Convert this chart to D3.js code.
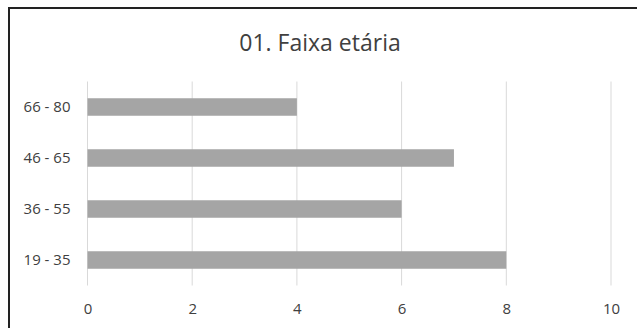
<!DOCTYPE html>
<html>
<head>
<meta charset="utf-8">
<script src="https://cdn.jsdelivr.net/npm/d3@7"></script>
<style>
  body { margin: 0; background: #fff; }
  text { font-family: "Open Sans", sans-serif; fill: #404040; }
</style>
</head>
<body>
<div id="chart"></div>
<script>
var width = 637;
var height = 328;

// data, top to bottom as drawn
var categories = ["66 - 80", "46 - 65", "36 - 55", "19 - 35"];
var values = [4, 7, 6, 8];
var xTicks = [0, 2, 4, 6, 8, 10];
var title = "01. Faixa etária";

var plotLeft = 87.5, plotRight = 611;
var plotTop = 81.5, plotBottom = 285.5;

var svg = d3.select("#chart").append("svg")
    .attr("width", width)
    .attr("height", height);

// chart frame (only top and left edges are visible)
svg.append("rect")
    .attr("x", 9)
    .attr("y", 8)
    .attr("width", width + 20)
    .attr("height", height + 20)
    .style("fill", "#fff")
    .style("stroke", "#222")
    .style("stroke-width", 2);

svg.append("text")
    .attr("x", 320)
    .attr("y", 51)
    .style("text-anchor", "middle")
    .style("font-size", "23px")
    .style("fill", "#404040")
    .text(title);

var xScale = d3.scaleLinear()
    .domain([0, 10])
    .range([plotLeft, plotRight]);

var yScale = d3.scaleBand()
    .domain(categories)
    .range([plotTop, plotBottom])
    .paddingInner(0.657)
    .paddingOuter(0.3285);

// gridlines
svg.append("g")
    .selectAll("line")
    .data(xTicks)
    .enter().append("line")
    .attr("x1", function(d) { return xScale(d); })
    .attr("x2", function(d) { return xScale(d); })
    .attr("y1", plotTop)
    .attr("y2", plotBottom)
    .style("stroke", "#d9d9d9")
    .style("stroke-width", 1);

// bars
var rows = categories.map(function(c, i) { return {cat: c, value: values[i]}; });
svg.append("g")
    .selectAll("rect")
    .data(rows)
    .enter().append("rect")
    .attr("x", xScale(0))
    .attr("y", function(d) { return yScale(d.cat); })
    .attr("width", function(d) { return xScale(d.value) - xScale(0); })
    .attr("height", yScale.bandwidth())
    .style("fill", "#a5a5a5");

// x axis labels
var xAxis = d3.axisBottom(xScale).tickValues(xTicks).tickSize(0).tickPadding(0);
var gx = svg.append("g")
    .attr("transform", "translate(0," + (plotBottom + 18) + ")")
    .call(xAxis);
gx.select(".domain").remove();
gx.selectAll("text")
    .style("font-size", "15px")
    .style("font-family", "'Open Sans', sans-serif")
    .style("fill", "#404040");

// y axis labels
var yAxis = d3.axisLeft(yScale).tickSize(0).tickPadding(17);
var gy = svg.append("g")
    .attr("transform", "translate(" + plotLeft + ",0)")
    .call(yAxis);
gy.select(".domain").remove();
gy.selectAll("text")
    .style("font-size", "15px")
    .style("font-family", "'Open Sans', sans-serif")
    .style("fill", "#404040");
</script>
</body>
</html>
